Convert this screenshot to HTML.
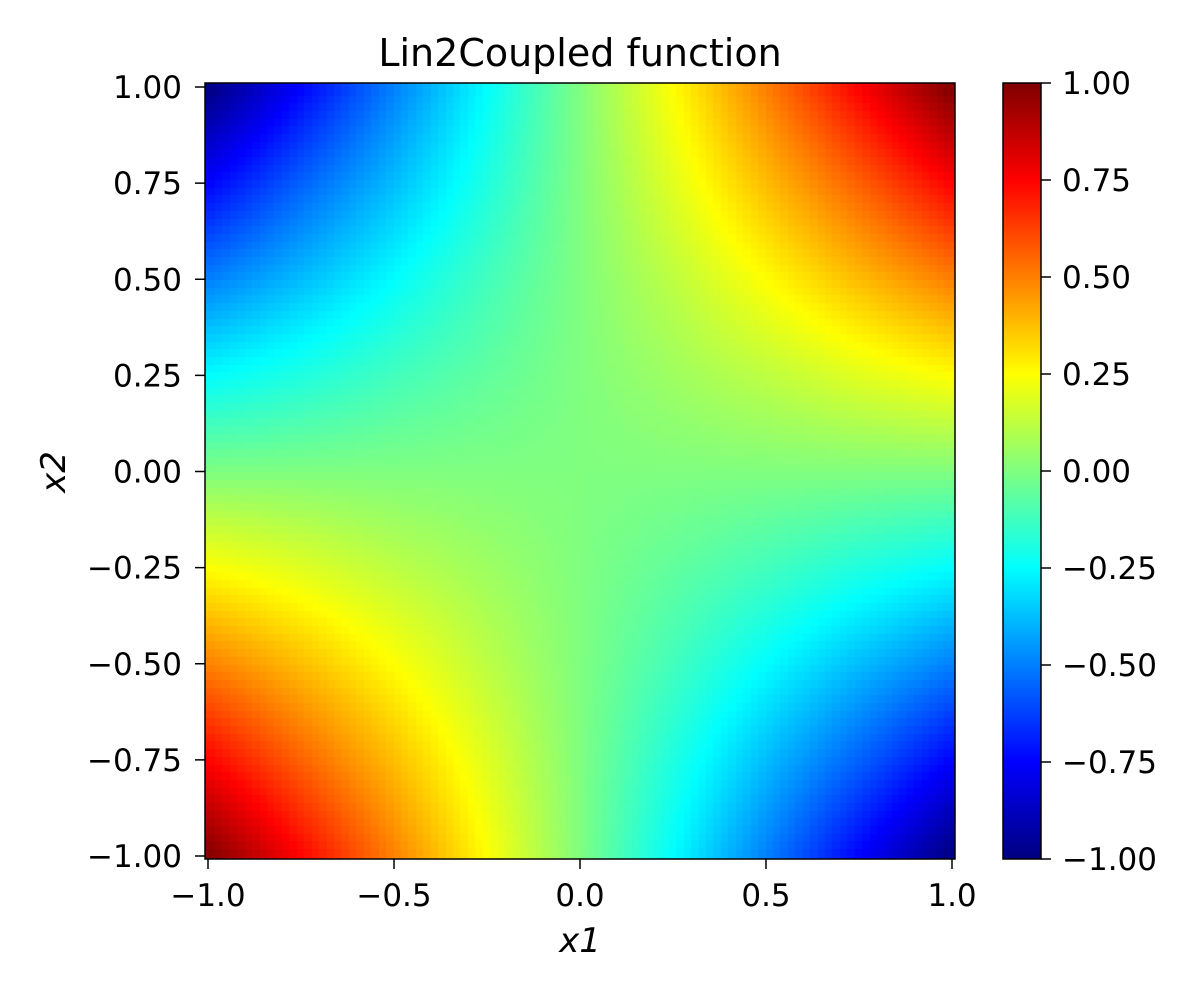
<!DOCTYPE html>
<html><head><meta charset="utf-8"><style>
body{margin:0;background:#fff;font-family:"DejaVu Sans","Liberation Sans",sans-serif}
#wrap{position:relative;width:1200px;height:1000px}
canvas{position:absolute}
svg{position:absolute;left:0;top:0;font-family:"DejaVu Sans","Liberation Sans",sans-serif}
</style></head><body>
<div id="wrap">
<canvas id="hm" width="750" height="776" style="left:205px;top:83px"></canvas>
<canvas id="cb" width="38" height="776" style="left:1003px;top:83px"></canvas>
<svg id="s" width="1200" height="1000"></svg>
</div>
<script>
// grid (at tick positions)
const gridX = [-1,-0.75,-0.5,-0.25,0,0.25,0.5,0.75,1];
const gridY = [-1,-0.75,-0.5,-0.25,0,0.25,0.5,0.75,1];
// z[row j (x2)][col i (x1)]
const zRows = [
 [1.00,0.75,0.50,0.25,0,-0.25,-0.50,-0.75,-1.00],
 [0.75,0.56,0.38,0.19,0,-0.19,-0.38,-0.56,-0.75],
 [0.50,0.38,0.25,0.12,0,-0.12,-0.25,-0.38,-0.50],
 [0.25,0.19,0.12,0.06,0,-0.06,-0.12,-0.19,-0.25],
 [0,0,0,0,0,0,0,0,0],
 [-0.25,-0.19,-0.12,-0.06,0,0.06,0.12,0.19,0.25],
 [-0.50,-0.38,-0.25,-0.12,0,0.12,0.25,0.38,0.50],
 [-0.75,-0.56,-0.38,-0.19,0,0.19,0.38,0.56,0.75],
 [-1.00,-0.75,-0.50,-0.25,0,0.25,0.50,0.75,1.00]
];
const xTicks = [-1.0,-0.5,0.0,0.5,1.0];
const xTickLabels = ["\u22121.0","\u22120.5","0.0","0.5","1.0"];
const yTicks = [-1,-0.75,-0.5,-0.25,0,0.25,0.5,0.75,1];
const yTickLabels = ["\u22121.00","\u22120.75","\u22120.50","\u22120.25","0.00","0.25","0.50","0.75","1.00"];
const cTicks = [-1,-0.75,-0.5,-0.25,0,0.25,0.5,0.75,1];
const cTickLabels = yTickLabels;
const vmin=-1, vmax=1;

const X0=205,X1=955,Y0=83,Y1=859;
const xs=v=>208+(v+1)*372;
const ys=v=>856-(v+1)*384.5;
const cs=v=>859-(v-vmin)/(vmax-vmin)*776;

function jet(t){t=Math.max(0,Math.min(1,t));
 const r=Math.max(0,Math.min(1,1.5-Math.abs(4*t-3)));
 const g=Math.max(0,Math.min(1,1.5-Math.abs(4*t-2)));
 const b=Math.max(0,Math.min(1,1.5-Math.abs(4*t-1)));
 return `rgb(${Math.round(r*255)},${Math.round(g*255)},${Math.round(b*255)})`;}
function sample(x,y){
 const fi=(x-gridX[0])/(gridX[gridX.length-1]-gridX[0])*(gridX.length-1);
 const fj=(y-gridY[0])/(gridY[gridY.length-1]-gridY[0])*(gridY.length-1);
 const i=Math.max(0,Math.min(gridX.length-2,Math.floor(fi))),j=Math.max(0,Math.min(gridY.length-2,Math.floor(fj)));
 const u=fi-i,w=fj-j;
 return zRows[j][i]*(1-u)*(1-w)+zRows[j][i+1]*u*(1-w)+zRows[j+1][i]*(1-u)*w+zRows[j+1][i+1]*u*w;}
const hm=document.getElementById('hm').getContext('2d');
const N=100;
for(let a=0;a<N;a++)for(let b=0;b<N;b++){
 const x=-1+(a+0.5)*2/N,y=-1+(b+0.5)*2/N;
 hm.fillStyle=jet((sample(x,y)-vmin)/(vmax-vmin));
 const px=xs(-1+a*2/N)-X0,px2=xs(-1+(a+1)*2/N)-X0;
 const py=ys(-1+(b+1)*2/N)-Y0,py2=ys(-1+b*2/N)-Y0;
 hm.fillRect(Math.floor(px)-(a==0?4:0),Math.floor(py)-(b==N-1?4:0),Math.ceil(px2-px)+1+(a==0||a==N-1?4:0),Math.ceil(py2-py)+1+(b==0||b==N-1?4:0));
}
const cb=document.getElementById('cb').getContext('2d');
for(let k=0;k<776;k++){cb.fillStyle=jet(1-(k+0.5)/776);cb.fillRect(0,k,38,1);}
const s=document.getElementById('s');const NS='http://www.w3.org/2000/svg';
function el(t,at,txt){const e=document.createElementNS(NS,t);for(const k in at)e.setAttribute(k,at[k]);if(txt!=null)e.textContent=txt;s.appendChild(e);return e;}
let e;
e=el('rect',{x:X0,y:Y0,width:X1-X0,height:Y1-Y0,fill:'none',stroke:'#000','stroke-width':1.5});


e=el('rect',{x:1003,y:83,width:38,height:776,fill:'none',stroke:'#000','stroke-width':1.5});


xTicks.forEach((v,k)=>{
 e=el('line',{x1:xs(v),x2:xs(v),y1:Y1,y2:Y1+10,stroke:'#000','stroke-width':1.5});
 
 
 e=el('text',{x:xs(v),y:906,'font-size':31,'text-anchor':'middle'},xTickLabels[k]);
 
 
});
yTicks.forEach((v,k)=>{
 e=el('line',{x1:X0-10,x2:X0,y1:ys(v),y2:ys(v),stroke:'#000','stroke-width':1.5});
 
 
 e=el('text',{x:182,y:ys(v)+11,'font-size':31,'text-anchor':'end'},yTickLabels[k]);
 
 
});
cTicks.forEach((v,k)=>{
 e=el('line',{x1:1041,x2:1051,y1:cs(v),y2:cs(v),stroke:'#000','stroke-width':1.5});
 
 
 e=el('text',{x:1062,y:cs(v)+11,'font-size':31},cTickLabels[k]);
 
 
});
e=el('text',{x:580,y:66,'font-size':38,'text-anchor':'middle'},'Lin2Coupled function');


e=el('text',{x:580,y:952,'font-size':34,'text-anchor':'middle','font-style':'italic'},'x1');


e=el('text',{x:0,y:0,'font-size':34,'text-anchor':'middle','font-style':'italic',transform:'translate(65,472) rotate(-90)'},'x2');


</script>
</body></html>
